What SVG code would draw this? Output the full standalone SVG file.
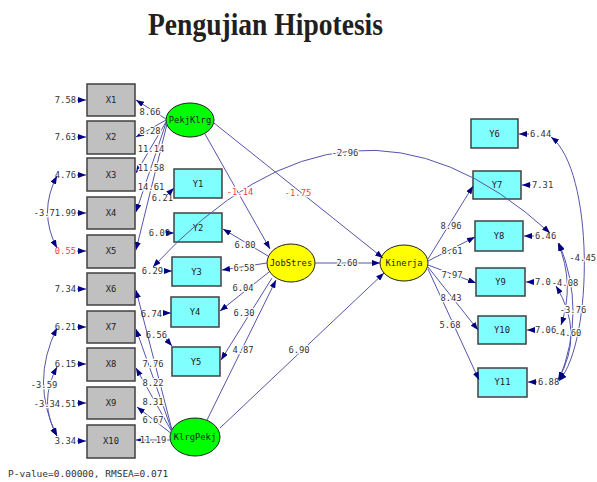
<svg xmlns="http://www.w3.org/2000/svg" width="597" height="482" viewBox="0 0 597 482">
<style>
.bx{fill:#c0c0c0;stroke:#404040;stroke-width:1.5}
.by{fill:#80ffff;stroke:#404040;stroke-width:1.5}
.eg{fill:#00ff00;stroke:#202020;stroke-width:1}
.ey{fill:#ffff00;stroke:#202020;stroke-width:1}
.ln{fill:none;stroke:#5555aa;stroke-width:1}
.ar{marker-end:url(#ah)}
.ar2{marker-start:url(#ah);marker-end:url(#ah)}
text{font-family:"DejaVu Sans Mono","Liberation Mono",monospace;font-size:8.8px;fill:#333333}
.lb{stroke:#ffffff;stroke-width:2.5px;paint-order:stroke;stroke-linejoin:round}
.nm{fill:#202020;text-anchor:middle}
.r{fill:#ff3b3b}
.m{text-anchor:middle}
.e{text-anchor:end}
.title{font-family:"Liberation Serif","Times New Roman",serif;font-weight:bold;font-size:31px;fill:#231f20}
.foot{font-size:9.5px;fill:#303030}
</style>
<defs>
<marker id="ah" viewBox="0 0 8 6" refX="8" refY="3" markerWidth="8" markerHeight="6" markerUnits="userSpaceOnUse" orient="auto-start-reverse">
<path d="M0,0 L8,3 L0,6 z" fill="#000080"/>
</marker>
</defs>

<text class="title" x="265.5" y="35" text-anchor="middle" textLength="235" lengthAdjust="spacingAndGlyphs">Pengujian Hipotesis</text>

<g id="X1"><rect class="bx" x="87" y="84" width="48" height="32"/><text class="nm" x="111" y="103">X1</text></g>
<g id="X2"><rect class="bx" x="87" y="121" width="48" height="33"/><text class="nm" x="111" y="140">X2</text></g>
<g id="X3"><rect class="bx" x="87" y="158" width="48" height="33"/><text class="nm" x="111" y="178">X3</text></g>
<g id="X4"><rect class="bx" x="87" y="197" width="48" height="32"/><text class="nm" x="111" y="216">X4</text></g>
<g id="X5"><rect class="bx" x="87" y="235" width="48" height="33"/><text class="nm" x="111" y="254">X5</text></g>
<g id="X6"><rect class="bx" x="87" y="273" width="48" height="32"/><text class="nm" x="111" y="292">X6</text></g>
<g id="X7"><rect class="bx" x="87" y="311" width="48" height="32"/><text class="nm" x="111" y="330">X7</text></g>
<g id="X8"><rect class="bx" x="87" y="348" width="48" height="33"/><text class="nm" x="111" y="367">X8</text></g>
<g id="X9"><rect class="bx" x="87" y="387" width="48" height="32"/><text class="nm" x="111" y="406">X9</text></g>
<g id="X10"><rect class="bx" x="87" y="425" width="48" height="33"/><text class="nm" x="111" y="444">X10</text></g>

<g id="Y1"><rect class="by" x="174" y="169" width="48" height="29"/><text class="nm" x="198" y="187">Y1</text></g>
<g id="Y2"><rect class="by" x="174" y="213" width="48" height="29"/><text class="nm" x="198" y="231">Y2</text></g>
<g id="Y3"><rect class="by" x="172" y="257" width="49" height="29"/><text class="nm" x="196.5" y="275">Y3</text></g>
<g id="Y4"><rect class="by" x="171" y="297" width="48" height="30"/><text class="nm" x="195" y="315">Y4</text></g>
<g id="Y5"><rect class="by" x="172" y="347" width="48" height="29"/><text class="nm" x="196" y="365">Y5</text></g>

<g id="Y6"><rect class="by" x="471" y="119" width="47" height="29"/><text class="nm" x="494.5" y="137">Y6</text></g>
<g id="Y7"><rect class="by" x="473" y="171" width="48" height="28"/><text class="nm" x="497" y="188">Y7</text></g>
<g id="Y8"><rect class="by" x="475" y="221" width="48" height="30"/><text class="nm" x="499" y="239">Y8</text></g>
<g id="Y9"><rect class="by" x="476" y="268" width="49" height="28"/><text class="nm" x="500.5" y="285">Y9</text></g>
<g id="Y10"><rect class="by" x="478" y="316" width="48" height="28"/><text class="nm" x="502" y="333">Y10</text></g>
<g id="Y11"><rect class="by" x="478" y="368" width="49" height="29"/><text class="nm" x="502.5" y="385">Y11</text></g>

<g id="PekjKlrg"><ellipse class="eg" cx="190" cy="120" rx="24" ry="17"/><text class="nm" x="190" y="123">PekjKlrg</text></g>
<g id="KlrgPekj"><ellipse class="eg" cx="195" cy="437" rx="25" ry="19"/><text class="nm" x="195" y="440">KlrgPekj</text></g>
<g id="JobStres"><ellipse class="ey" cx="291" cy="263" rx="24" ry="19"/><text class="nm" x="291" y="266">JobStres</text></g>
<g id="Kinerja"><ellipse class="ey" cx="404" cy="263" rx="24" ry="18"/><text class="nm" x="404" y="266">Kinerja</text></g>

<g id="connectors">
<!-- PekjKlrg loadings -->
<line class="ln ar" x1="166" y1="119" x2="136" y2="100"/>
<line class="ln ar" x1="166" y1="120" x2="136" y2="137"/>
<line class="ln ar" x1="166" y1="122" x2="136" y2="173"/>
<line class="ln ar" x1="166" y1="123" x2="136" y2="212"/>
<line class="ln ar" x1="167" y1="124" x2="136" y2="250"/>
<!-- KlrgPekj loadings -->
<line class="ln ar" x1="172" y1="430" x2="136" y2="290"/>
<line class="ln ar" x1="172" y1="431" x2="136" y2="329"/>
<line class="ln ar" x1="172" y1="432" x2="136" y2="368"/>
<line class="ln ar" x1="172" y1="434" x2="137" y2="407"/>
<line class="ln ar" x1="170" y1="440" x2="136" y2="440"/>
<!-- X errors -->
<line class="ln ar" x1="77" y1="100" x2="86" y2="100"/>
<line class="ln ar" x1="77" y1="137" x2="86" y2="137"/>
<line class="ln ar" x1="77" y1="175" x2="86" y2="175"/>
<line class="ln ar" x1="77" y1="213" x2="86" y2="213"/>
<line class="ln ar" x1="77" y1="251" x2="86" y2="251"/>
<line class="ln ar" x1="77" y1="289" x2="86" y2="289"/>
<line class="ln ar" x1="77" y1="327" x2="86" y2="327"/>
<line class="ln ar" x1="77" y1="364" x2="86" y2="364"/>
<line class="ln ar" x1="77" y1="403" x2="86" y2="403"/>
<line class="ln ar" x1="77" y1="441" x2="86" y2="441"/>
<!-- X error covariances -->
<path class="ln ar2" d="M57,176 Q38,212 57,248"/>
<path class="ln ar2" d="M57,328 Q30,382 57,436"/>
<path class="ln ar2" d="M57,367 Q38,402 57,436"/>
<!-- JobStres loadings -->
<line class="ln ar" x1="268" y1="256" x2="223" y2="229"/>
<line class="ln ar" x1="267" y1="263" x2="222" y2="270"/>
<line class="ln ar" x1="269" y1="272" x2="220" y2="311"/>
<line class="ln ar" x1="272" y1="278" x2="221" y2="360"/>
<!-- left Y errors -->
<line class="ln ar" x1="167" y1="195" x2="174" y2="188"/>
<line class="ln ar" x1="166" y1="233" x2="174" y2="233"/>
<line class="ln ar" x1="164" y1="271" x2="172" y2="271"/>
<line class="ln ar" x1="163" y1="313" x2="171" y2="313"/>
<line class="ln ar" x1="166" y1="339" x2="172" y2="346"/>
<!-- structural -->
<line class="ln ar" x1="205" y1="134" x2="270" y2="249"/>
<line class="ln ar" x1="214" y1="123" x2="383" y2="258"/>
<line class="ln ar" x1="315" y1="263" x2="380" y2="263"/>
<line class="ln ar" x1="207" y1="420" x2="276" y2="280"/>
<line class="ln ar" x1="220" y1="428" x2="384" y2="273"/>
<!-- Kinerja loadings -->
<line class="ln ar" x1="428" y1="259" x2="473" y2="186"/>
<line class="ln ar" x1="428" y1="261" x2="475" y2="237"/>
<line class="ln ar" x1="428" y1="265" x2="476" y2="283"/>
<line class="ln ar" x1="428" y1="267" x2="478" y2="330"/>
<line class="ln ar" x1="428" y1="269" x2="479" y2="380"/>
<!-- right Y errors -->
<line class="ln ar" x1="529" y1="134" x2="519" y2="134"/>
<line class="ln ar" x1="531" y1="185" x2="522" y2="185"/>
<line class="ln ar" x1="534" y1="236" x2="524" y2="236"/>
<line class="ln ar" x1="534" y1="282" x2="526" y2="282"/>
<line class="ln ar" x1="535" y1="330" x2="527" y2="330"/>
<line class="ln ar" x1="537" y1="382" x2="528" y2="382"/>
<!-- error covariances -->
<path class="ln ar2" d="M153,267 Q351,52 550,233"/>
<path class="ln ar2" d="M551,137 C594,170 594,340 559,381"/>
<path class="ln ar2" d="M558,243 Q575,284 561,325"/>
<path class="ln ar2" d="M559,243 Q587,311 559,380"/>
<path class="ln ar2" d="M556,286 Q585,333 558,380"/>
</g>

<g id="labels">
<text class="lb m" x="150" y="115">8.66</text>
<text class="lb m" x="150" y="134">8.28</text>
<text class="lb m" x="151" y="152">11.14</text>
<text class="lb m" x="151" y="171">11.58</text>
<text class="lb m" x="151" y="190">14.61</text>
<text class="lb m" x="153" y="367">7.76</text>
<text class="lb m" x="153" y="386">8.22</text>
<text class="lb m" x="153" y="405">8.31</text>
<text class="lb m" x="153" y="423">6.67</text>
<text class="lb m" x="153" y="443">11.19</text>
<text class="e" x="76" y="103">7.58</text>
<text class="e" x="76" y="140">7.63</text>
<text class="e" x="76" y="178">4.76</text>
<text class="lb e" x="76" y="216">-3.71.99</text>
<text class="e r" x="76" y="254">0.55</text>
<text class="e" x="76" y="292">7.34</text>
<text class="e" x="76" y="330">6.21</text>
<text class="e" x="76" y="367">6.15</text>
<text class="lb m" x="44" y="388">-3.59</text>
<text class="lb e" x="76" y="407">-3.34.51</text>
<text class="e" x="76" y="444">3.34</text>
<text class="e" x="173" y="201">6.21</text>
<text class="e" x="170" y="236">6.09</text>
<text class="e" x="163" y="274">6.29</text>
<text class="e" x="162" y="317">6.74</text>
<text class="e" x="167" y="338">6.56</text>
<text class="lb m" x="245" y="248">6.80</text>
<text class="lb m" x="244" y="271">6.58</text>
<text class="lb m" x="243" y="291">6.04</text>
<text class="lb m" x="244" y="316">6.30</text>
<text class="lb m r" x="240" y="195">-1.14</text>
<text class="lb m r" x="298" y="196">-1.75</text>
<text class="lb m" x="345" y="156">-2.96</text>
<text class="lb m" x="347" y="266">2.60</text>
<text class="lb m" x="243" y="353">4.87</text>
<text class="lb m" x="299" y="353">6.90</text>
<text class="lb m" x="451" y="229">8.96</text>
<text class="lb m" x="452" y="254">8.61</text>
<text class="lb m" x="452" y="278">7.97</text>
<text class="lb m" x="451" y="301">8.43</text>
<text class="lb m" x="450" y="328">5.68</text>
<text x="530" y="137">6.44</text>
<text x="532" y="188">7.31</text>
<text x="535" y="239">6.46</text>
<text x="535" y="285">7.0</text>
<text x="535" y="333">7.06</text>
<text x="538" y="385">6.88</text>
<text class="lb e" x="596" y="261">-4.45</text>
<text class="lb m" x="565" y="286">-4.08</text>
<text class="lb m" x="573" y="313">-3.76</text>
<text class="lb m" x="568" y="336">-4.60</text>
<text class="foot" x="8" y="477">P-value=0.00000, RMSEA=0.071</text>
</g>
</svg>
